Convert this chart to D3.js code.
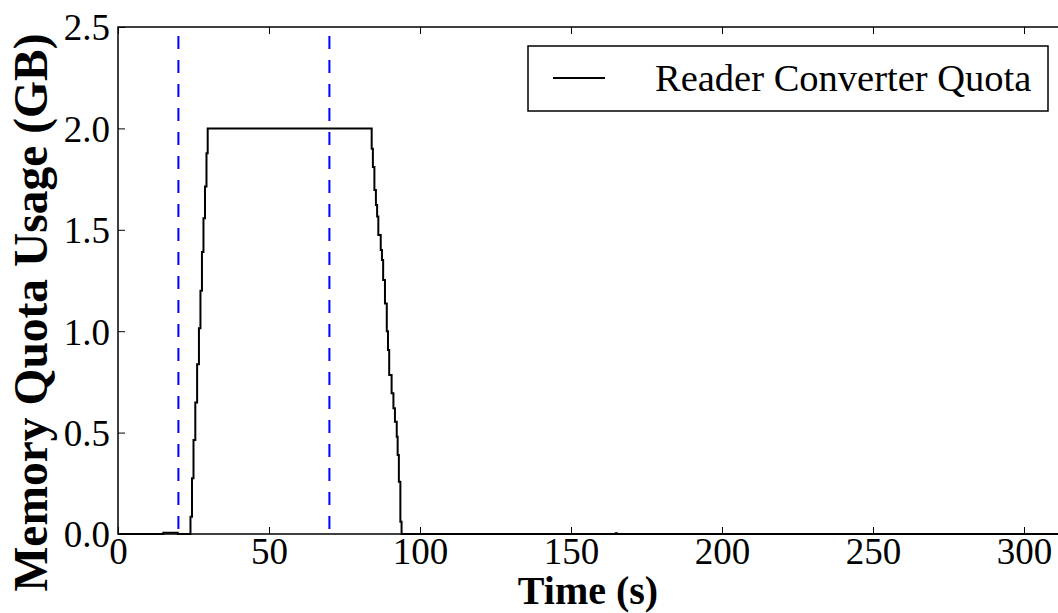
<!DOCTYPE html>
<html>
<head>
<meta charset="utf-8">
<script src="https://cdn.jsdelivr.net/npm/d3@7"></script>
<style>
    body { margin: 0; background: #fff; }
    svg text { font-family: "Liberation Serif", "Times New Roman", serif; fill: #000; }
</style>
</head>
<body>
<div id="graph"></div>
<script>
// time (s) where the quota value changes, and the new value (GB)
let times = [0, 15, 19.8, 24.0, 24.5, 25.0, 25.6, 26.2, 26.8, 27.3, 27.8, 28.3, 28.8, 29.3, 29.7,
    84.0, 84.4, 84.9, 85.4, 85.8, 86.2, 87.0, 87.4, 87.8, 88.4, 89.0, 89.4, 89.8, 90.6, 91.2,
    91.7, 92.3, 92.6, 93.0, 93.5, 93.9, 164.8, 165.2, 320];
let quota = [0, 0.006, 0, 0.085, 0.275, 0.463, 0.649, 0.837, 1.014, 1.2, 1.39, 1.557, 1.713, 1.877, 2.0,
    1.90, 1.81, 1.696, 1.622, 1.565, 1.474, 1.40, 1.351, 1.252, 1.137, 1.0, 0.907, 0.784, 0.694, 0.62,
    0.554, 0.48, 0.39, 0.258, 0.061, 0, 0.004, 0, 0];
let markers = [20, 70];
let xTicks = [0, 50, 100, 150, 200, 250, 300];
let yTicks = [0, 0.5, 1.0, 1.5, 2.0, 2.5];
let seriesName = "Reader Converter Quota";

let width = 1058, height = 613;
let plotLeft = 118, plotTop = 27, plotBottom = 534;

let svg = d3.select("#graph").append("svg")
    .attr("width", width)
    .attr("height", height);

let x = d3.scaleLinear().domain([0, 315]).range([plotLeft, plotLeft + 315 * 3.02]);
let y = d3.scaleLinear().domain([0, 2.5]).range([plotBottom, plotTop]);

let data = times.map((t, i) => ({t: t, v: quota[i]}));

// plot frame
svg.append("rect")
    .attr("x", plotLeft).attr("y", plotTop)
    .attr("width", x(315) - plotLeft).attr("height", plotBottom - plotTop)
    .attr("fill", "none").attr("stroke", "#000").attr("stroke-width", 1.5);

// inward ticks on all sides
let xAxis = svg.append("g")
    .attr("transform", "translate(0," + plotBottom + ")")
    .call(d3.axisBottom(x).tickValues(xTicks).tickSize(-7).tickFormat(d3.format("d")));
let xTop = svg.append("g")
    .attr("transform", "translate(0," + plotTop + ")")
    .call(d3.axisTop(x).tickValues(xTicks).tickSize(-7).tickFormat(""));
let yAxis = svg.append("g")
    .attr("transform", "translate(" + plotLeft + ",0)")
    .call(d3.axisLeft(y).tickValues(yTicks).tickSize(-7).tickFormat(d3.format(".1f")));

[xAxis, xTop, yAxis].forEach(g => {
    g.select(".domain").remove();
    g.selectAll(".tick line").attr("stroke", "#000").attr("stroke-width", 1);
    g.selectAll(".tick text").attr("font-size", 37).attr("font-family", "Liberation Serif").attr("fill", "#000");
});
xAxis.selectAll(".tick text").attr("y", 2).attr("dy", "0.75em");
yAxis.selectAll(".tick text").attr("x", -8).attr("dy", "0.35em");

// event markers
svg.selectAll(".marker")
    .data(markers)
    .enter().append("line")
    .attr("class", "marker")
    .attr("x1", d => x(d)).attr("x2", d => x(d))
    .attr("y1", plotTop + 9).attr("y2", plotBottom)
    .attr("stroke", "#0000ff").attr("stroke-width", 2)
    .attr("stroke-dasharray", "13,11");

svg.append("clipPath").attr("id", "clip")
    .append("rect").attr("x", plotLeft).attr("y", plotTop - 2)
    .attr("width", x(315) - plotLeft).attr("height", plotBottom - plotTop + 4);

let valueLine = d3.line()
    .x(d => x(d.t))
    .y(d => y(d.v))
    .curve(d3.curveStepAfter);

svg.append("path")
    .datum(data)
    .attr("clip-path", "url(#clip)")
    .attr("d", valueLine)
    .attr("fill", "none")
    .attr("stroke", "#000")
    .attr("stroke-width", 2);

// legend
let legend = svg.append("g");
legend.append("rect")
    .attr("x", 528).attr("y", 46).attr("width", 520).attr("height", 65)
    .attr("fill", "#fff").attr("stroke", "#000").attr("stroke-width", 1.5);
legend.append("line")
    .attr("x1", 553).attr("x2", 605).attr("y1", 78).attr("y2", 78)
    .attr("stroke", "#000").attr("stroke-width", 2);
legend.append("text")
    .attr("x", 655).attr("y", 78).attr("dy", "0.35em")
    .attr("font-size", 38.5)
    .text(seriesName);

// axis titles
svg.append("text")
    .attr("x", (plotLeft + 1058) / 2).attr("y", 604)
    .attr("text-anchor", "middle")
    .attr("font-size", 40).attr("font-weight", "bold")
    .text("Time (s)");

svg.append("text")
    .attr("transform", "translate(47," + ((plotTop + plotBottom) / 2 + 32) + ") rotate(-90)")
    .attr("text-anchor", "middle")
    .attr("font-size", 47.5).attr("font-weight", "bold")
    .text("Memory Quota Usage (GB)");
</script>
</body>
</html>
